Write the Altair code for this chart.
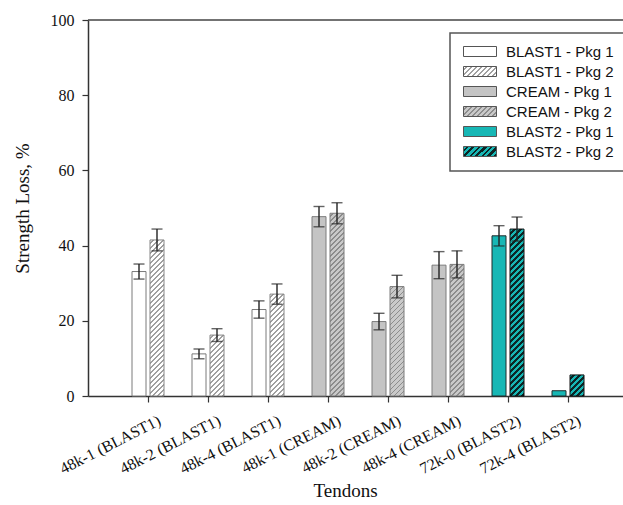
import json
import altair as alt

# ---------------- data ----------------
tendons = ["48k-1 (BLAST1)", "48k-2 (BLAST1)", "48k-4 (BLAST1)",
           "48k-1 (CREAM)", "48k-2 (CREAM)", "48k-4 (CREAM)",
           "72k-0 (BLAST2)", "72k-4 (BLAST2)"]
groups = ["BLAST1", "BLAST1", "BLAST1", "CREAM", "CREAM", "CREAM", "BLAST2", "BLAST2"]
packages = ["Pkg 1", "Pkg 2"]
pkg1_loss = [33.1, 11.2, 23.0, 47.7, 19.8, 34.8, 42.6, 1.4]
pkg1_err = [2.0, 1.3, 2.3, 2.7, 2.2, 3.6, 2.7, 0.0]
pkg2_loss = [41.5, 16.2, 27.1, 48.6, 29.1, 35.0, 44.4, 5.6]
pkg2_err = [2.9, 1.7, 2.7, 2.8, 3.0, 3.6, 3.2, 0.0]
series_order = ["BLAST1 - Pkg 1", "BLAST1 - Pkg 2", "CREAM - Pkg 1",
                "CREAM - Pkg 2", "BLAST2 - Pkg 1", "BLAST2 - Pkg 2"]
y_ticks = [0, 20, 40, 60, 80, 100]

# ---------------- styles ----------------
STYLE = {
    "BLAST1 - Pkg 1": dict(bg="#ffffff", hatch=None, stroke="#7a7a7a"),
    "BLAST1 - Pkg 2": dict(bg="#ffffff", hatch="#a0a0a0", stroke="#858585"),
    "CREAM - Pkg 1": dict(bg="#c4c4c4", hatch=None, stroke="#7c7c7c"),
    "CREAM - Pkg 2": dict(bg="#c9c9c9", hatch="#8c8c8c", stroke="#7c7c7c"),
    "BLAST2 - Pkg 1": dict(bg="#17b7b5", hatch=None, stroke="#1e2a2a"),
    "BLAST2 - Pkg 2": dict(bg="#17b7b5", hatch="#0c2626", stroke="#111111"),
}
HATCH = {"BLAST1": (5.0, 1.6), "CREAM": (5.0, 1.6), "BLAST2": (6.0, 3.0)}
PLOT_W, PLOT_H = 535, 376
PX_PER_UNIT = PLOT_H / 100.0
BAR_W = 14.0


def hatch_fill(w, h, bg, fg, period, thick):
    """Linear gradient (bounding-box units) imitating a '///' hatch."""
    if fg is None:
        return bg
    s = w + h
    a = s / (w * w + h * h)
    stops = [{"offset": 0, "color": bg}]
    pos = period * 0.5
    while pos < s:
        o1 = round(pos / s, 5)
        o2 = round(min(pos + thick, s) / s, 5)
        stops += [{"offset": o1, "color": bg}, {"offset": o1, "color": fg},
                  {"offset": o2, "color": fg}, {"offset": o2, "color": bg}]
        pos += period
    stops.append({"offset": 1, "color": bg})
    return {"gradient": "linear", "x1": 0, "y1": 0,
            "x2": round(w * a, 5), "y2": round(h * a, 5), "stops": stops}


records = []
for i, t in enumerate(tendons):
    for pkg, vals, errs in (("Pkg 1", pkg1_loss, pkg1_err), ("Pkg 2", pkg2_loss, pkg2_err)):
        series = f"{groups[i]} - {pkg}"
        st = STYLE[series]
        per, thk = HATCH[groups[i]]
        records.append({
            "tendon": t, "pkg": pkg, "series": series,
            "loss": vals[i], "err": errs[i],
            "fill_style": hatch_fill(BAR_W, max(vals[i] * PX_PER_UNIT, 1.0),
                                     st["bg"], st["hatch"], per, thk),
            "stroke_style": st["stroke"],
        })

legend_range = []
for s in series_order:
    st = STYLE[s]
    per, thk = HATCH[s.split(" - ")[0]]
    f = hatch_fill(33.0, 10.0, st["bg"], st["hatch"], per, thk)
    legend_range.append(f if isinstance(f, str) else {"expr": json.dumps(f)})

base = alt.Chart(alt.Data(values=records))

x_enc = alt.X("tendon:N", sort=tendons,
              scale=alt.Scale(paddingInner=0, paddingOuter=0.4583, align=0.5455),
              axis=alt.Axis(title="Tendons", labelAngle=-27, labelAlign="right",
                            labelBaseline="top", labelFont="Liberation Serif",
                            labelFontSize=16, labelColor="#111", labelPadding=10,
                            labelOffset=8, labelOverlap=False, tickSize=6,
                            titleFont="Liberation Serif", titleFontSize=19,
                            titleFontWeight="normal", titleColor="#111",
                            titleX=257, titleY=94, titleBaseline="middle"))
xo_enc = alt.XOffset("pkg:N", sort=packages,
                     scale=alt.Scale(paddingInner=0.2222, paddingOuter=0.7778))
y_enc = alt.Y("loss:Q", scale=alt.Scale(domain=[0, 100], nice=False),
              axis=alt.Axis(title="Strength Loss, %", values=y_ticks, tickSize=6,
                            labelFont="Liberation Serif", labelFontSize=16,
                            labelColor="#111", labelPadding=8,
                            titleFont="Liberation Serif", titleFontSize=19,
                            titleFontWeight="normal", titleColor="#111",
                            titleX=-66, titleY=188, titleAngle=-90,
                            titleAlign="center", titleBaseline="middle"))

bars = base.mark_bar(strokeWidth=1).encode(
    x=x_enc, xOffset=xo_enc, y=y_enc,
    fill=alt.Fill("fill_style:N", scale=None),
    stroke=alt.Stroke("stroke_style:N", scale=None),
)

errs = base.transform_filter("datum.err > 0").transform_calculate(
    lo="datum.loss - datum.err", hi="datum.loss + datum.err")
rule = errs.mark_rule(color="#222", strokeWidth=1.4).encode(
    x=x_enc, xOffset=xo_enc, y="lo:Q", y2="hi:Q")
cap_lo = errs.mark_tick(color="#222", size=11, thickness=1.4).encode(
    x=x_enc, xOffset=xo_enc, y="lo:Q")
cap_hi = errs.mark_tick(color="#222", size=11, thickness=1.4).encode(
    x=x_enc, xOffset=xo_enc, y="hi:Q")

top_line = alt.Chart(alt.Data(values=[{"v": 100}])).mark_rule(
    color="#444", strokeWidth=1.5).encode(y=alt.Y("v:Q"))

legend_layer = base.transform_filter("datum.loss < 0").mark_bar().encode(
    color=alt.Color("series:N",
                    scale=alt.Scale(domain=series_order, range=legend_range),
                    legend=alt.Legend(
                        title=None, orient="none", legendX=362, legendY=13,
                        symbolType="M-1,-1H5.6V1H-1Z", symbolSize=100,
                        symbolStrokeColor="#555", symbolStrokeWidth=1,
                        labelFont="Liberation Sans", labelFontSize=15,
                        labelColor="#111", labelOffset=30, rowPadding=4,
                        padding=11, strokeColor="#555",
                        fillColor="#ffffff")),
)

chart = alt.layer(bars, rule, cap_lo, cap_hi, top_line, legend_layer).properties(
    width=PLOT_W, height=PLOT_H,
    autosize=alt.AutoSizeParams(type="none"),
    padding={"left": 88, "top": 20, "right": 0, "bottom": 109},
).configure_view(stroke=None).configure_axis(
    grid=False, domainColor="#333", domainWidth=1.5,
    tickColor="#333", tickWidth=1.2,
).configure_legend(strokeWidth=1.5)

chart.save("out.html", embed_options={"renderer": "svg", "actions": False})
